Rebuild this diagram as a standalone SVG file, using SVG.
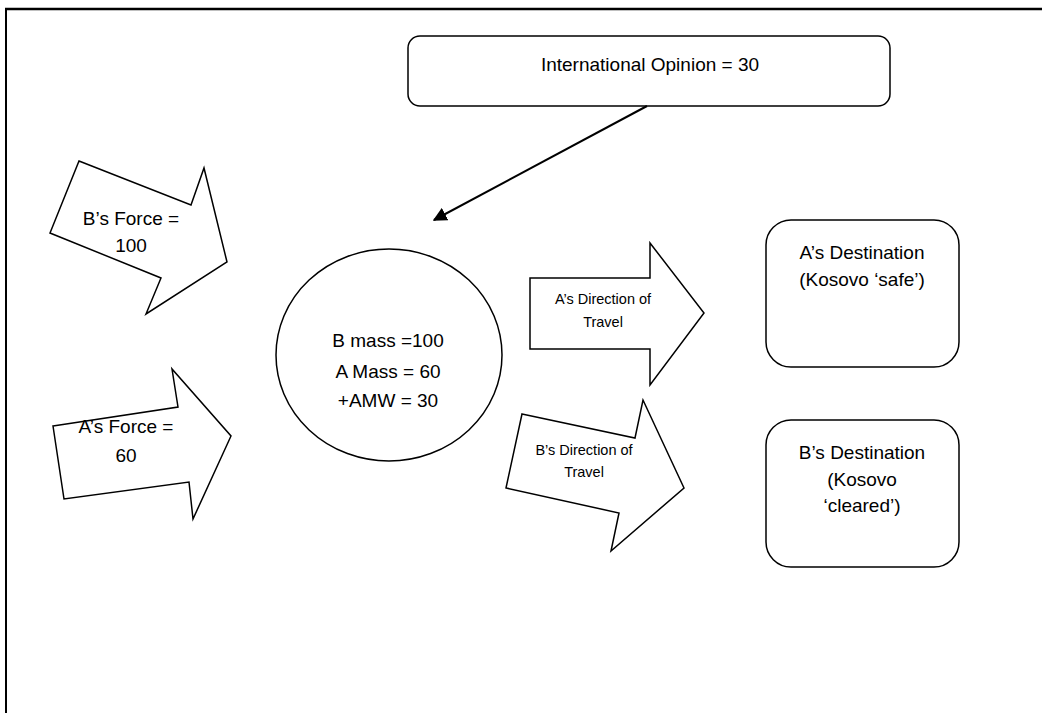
<svg xmlns="http://www.w3.org/2000/svg" width="1042" height="713" viewBox="0 0 1042 713">
  <style>
    .shape { fill: #ffffff; stroke: #000000; stroke-width: 1.5; stroke-linejoin: miter; }
    .label { font-family: "Liberation Sans", Arial, sans-serif; fill: #000000; text-anchor: middle; }
    .big { font-size: 19px; }
    .small { font-size: 14.5px; }
    .frame { stroke: #000000; fill: none; }
    .connector { stroke: #000000; stroke-width: 2; fill: none; }
  </style>
  <defs>
    <marker id="arrowhead" viewBox="0 0 10 10" refX="9" refY="5" markerWidth="7" markerHeight="7" markerUnits="strokeWidth" orient="auto">
      <path d="M0,0 L10,5 L0,10 Z" fill="#000000"/>
    </marker>
  </defs>

  <rect width="1042" height="713" fill="#ffffff"/>

  <!-- page frame: top and left rules -->
  <g id="frame">
    <line class="frame" x1="5" y1="9" x2="1042" y2="9" stroke-width="2.5"/>
    <line class="frame" x1="6" y1="8" x2="6" y2="713" stroke-width="2"/>
  </g>

  <g id="international-opinion">
    <rect class="shape" x="408" y="36" width="482" height="70" rx="12"/>
    <text class="label big" x="650" y="71">International Opinion = 30</text>
  </g>

  <g id="b-force">
    <polygon class="shape" points="79,161 191,205 204,168 227,262 146,314 161,278 50,233"/>
    <text class="label big" x="131" y="225">B’s Force =</text>
    <text class="label big" x="131" y="252">100</text>
  </g>

  <g id="a-force">
    <polygon class="shape" points="53,426 178,407 172,369 231,436 193,519 189,482 64,499"/>
    <text class="label big" x="126" y="433">A’s Force =</text>
    <text class="label big" x="126" y="462">60</text>
  </g>

  <g id="mass">
    <ellipse class="shape" cx="389" cy="355" rx="113" ry="106"/>
    <text class="label big" x="388" y="347">B mass =100</text>
    <text class="label big" x="388" y="378">A Mass = 60</text>
    <text class="label big" x="388" y="407">+AMW = 30</text>
  </g>

  <g id="a-direction">
    <polygon class="shape" points="530,278 650,278 650,243 704,313 650,385 650,349 530,349"/>
    <text class="label small" x="603" y="304">A’s Direction of</text>
    <text class="label small" x="603" y="327">Travel</text>
  </g>

  <g id="b-direction">
    <polygon class="shape" points="522,414 635,438 643,400 684,488 611,551 619,513 506,488"/>
    <text class="label small" x="584" y="455">B’s Direction of</text>
    <text class="label small" x="584" y="477">Travel</text>
  </g>

  <g id="a-destination">
    <rect class="shape" x="766" y="220" width="193" height="147" rx="25"/>
    <text class="label big" x="862" y="259">A’s Destination</text>
    <text class="label big" x="862" y="286">(Kosovo ‘safe’)</text>
  </g>

  <g id="b-destination">
    <rect class="shape" x="766" y="420" width="193" height="147" rx="25"/>
    <text class="label big" x="862" y="459">B’s Destination</text>
    <text class="label big" x="862" y="486">(Kosovo</text>
    <text class="label big" x="862" y="512">‘cleared’)</text>
  </g>

  <g id="connectors">
    <line class="connector" x1="647" y1="106" x2="434" y2="220" marker-end="url(#arrowhead)"/>
  </g>
</svg>
